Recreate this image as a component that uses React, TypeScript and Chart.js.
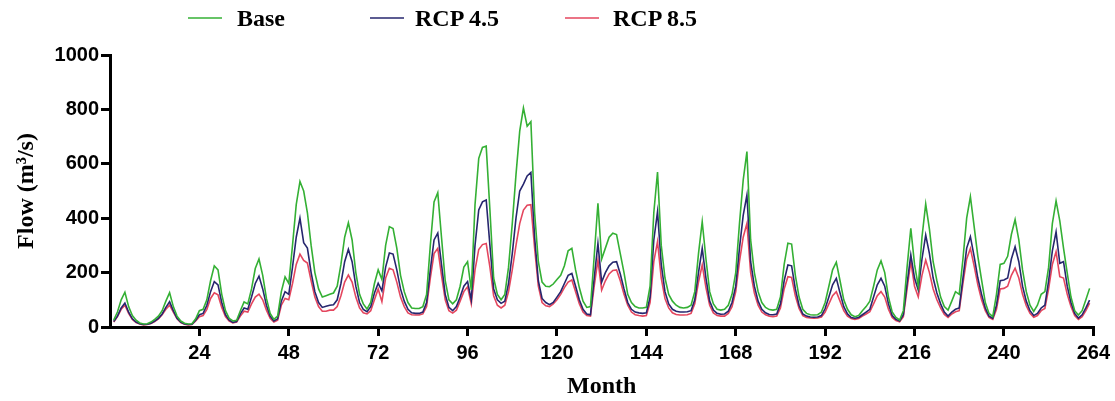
import React, { useEffect, useRef } from "react";
import { Chart, registerables } from "chart.js";

Chart.register(...registerables);

const seriesNames = ["Base", "RCP 4.5", "RCP 8.5"];
const seriesColors = ["#34b034", "#26266e", "#e4465e"];

const xTicks = [24, 48, 72, 96, 120, 144, 168, 192, 216, 240, 264];
const yTicks = [0, 200, 400, 600, 800, 1000];

const baseFlow = [
  25, 55, 100, 128, 75, 42, 25, 15, 11, 12, 18, 28,
  40, 60, 95, 126, 75, 40, 22, 14, 11, 12, 30, 60,
  65, 100, 170, 225, 210, 120, 60, 32, 22, 25, 60, 92,
  85, 140, 215, 250, 190, 105, 50, 28, 40, 130, 184, 160,
  300, 450, 535, 500, 420, 300, 200, 140, 110, 115, 120, 125,
  150, 230, 330, 383, 320, 200, 120, 85, 66, 90, 160, 210,
  175, 300, 369, 362, 290, 190, 130, 90, 70, 68, 68, 75,
  120, 300, 460, 494, 330, 170, 100, 85, 100, 150, 220, 240,
  136, 450, 620, 660, 665, 430, 180, 120, 100, 120, 220, 380,
  560, 720, 805, 738, 755, 420, 240, 165, 150, 148, 158, 175,
  190, 225, 280, 289, 210, 145, 95, 72, 75, 260, 455, 250,
  290, 330, 345, 340, 270, 200, 120, 90, 75, 70, 70, 72,
  150, 420, 570, 300, 180, 120, 95, 80, 72, 70, 72, 80,
  130, 270, 387, 250, 130, 85, 65, 62, 65, 80, 120, 200,
  380, 540, 645, 320, 200, 130, 90, 72, 64, 62, 65, 110,
  230, 308, 305, 190, 110, 65, 50, 45, 44, 45, 55, 90,
  150, 210, 238, 170, 100, 65, 45, 38, 42, 60, 75, 95,
  150, 210, 243, 200, 110, 55, 35, 26, 60, 220, 363, 230,
  150, 330, 452, 360, 240, 170, 110, 75, 62, 95, 130, 120,
  250, 400, 479, 370, 260, 173, 90, 50, 38, 120, 230, 234,
  260, 340, 395, 320, 210, 130, 80, 57, 80, 120, 130, 220,
  380, 464, 390, 290, 198, 110, 60, 44, 60, 100, 142,
];

const rcp45Flow = [
  20, 40, 70, 88, 55, 30, 18, 12, 9, 10, 14, 22,
  32, 48, 72, 93, 60, 32, 18, 11, 9, 10, 25, 45,
  50, 80, 130, 167, 155, 90, 45, 25, 17, 20, 48, 70,
  65, 110, 160, 187, 140, 80, 40, 22, 30, 95, 130, 120,
  220, 330, 400, 310, 290, 200, 130, 90, 72, 76, 80, 82,
  100, 160, 240, 286, 240, 150, 90, 65, 56, 75, 125, 161,
  133, 220, 272, 268, 210, 140, 95, 65, 52, 50, 50, 55,
  90, 210, 320, 345, 230, 120, 72, 60, 75, 110, 150, 167,
  100, 300, 430, 460, 467, 300, 140, 100, 87, 95, 160, 270,
  400, 500, 525, 555, 568, 330, 170, 105, 90, 82, 90, 110,
  130, 160, 190, 197, 150, 100, 65, 48, 45, 180, 307, 165,
  200, 225, 238, 240, 195, 140, 90, 65, 55, 52, 50, 52,
  110, 320, 424, 230, 130, 85, 65, 58, 55, 55, 56, 60,
  100, 200, 289, 180, 95, 62, 50, 47, 48, 58, 90, 150,
  290, 410, 485, 240, 150, 95, 65, 52, 46, 45, 48, 85,
  170, 228, 225, 140, 80, 48, 40, 37, 36, 37, 42, 68,
  110, 155, 179, 125, 75, 48, 35, 32, 35, 45, 55, 65,
  110, 155, 179, 150, 85, 42, 28, 22, 45, 160, 265, 180,
  136, 250, 338, 270, 180, 125, 85, 55, 40, 55, 65, 70,
  180, 290, 332, 260, 180, 120, 70, 40, 32, 80, 170, 173,
  180, 250, 295, 240, 150, 95, 60, 42, 50, 70, 80, 170,
  280, 350, 234, 240, 150, 90, 50, 33, 45, 70, 99,
];

const rcp85Flow = [
  18, 38, 65, 80, 50, 28, 16, 11, 8, 9, 13, 20,
  30, 45, 65, 80, 55, 30, 16, 10, 8, 9, 22, 38,
  42, 65, 105, 126, 118, 72, 38, 22, 15, 18, 40, 58,
  55, 85, 110, 121, 100, 62, 32, 18, 25, 80, 105, 100,
  160, 230, 268, 245, 235, 170, 110, 75, 58, 58, 62, 62,
  75, 115, 165, 191, 165, 110, 70, 52, 48, 60, 100, 140,
  93, 180, 216, 210, 165, 110, 75, 52, 45, 44, 44, 48,
  75, 180, 270, 289, 190, 100, 60, 51, 62, 95, 130, 148,
  85, 210, 285, 303, 307, 220, 115, 80, 70, 80, 130, 210,
  300, 380, 430, 448, 450, 290, 150, 90, 78, 75, 85, 100,
  120, 145, 165, 173, 130, 86, 55, 42, 40, 150, 246, 136,
  170, 195, 208, 210, 170, 120, 80, 55, 45, 42, 40, 42,
  90, 240, 314, 180, 105, 70, 52, 46, 44, 44, 45, 50,
  85, 165, 228, 145, 80, 52, 42, 40, 40, 50, 75, 130,
  240, 330, 381, 200, 125, 80, 55, 45, 40, 38, 40, 70,
  140, 185, 182, 115, 68, 42, 35, 33, 32, 33, 37, 55,
  85, 115, 130, 95, 60, 40, 31, 28, 31, 40, 48, 56,
  85, 115, 130, 110, 65, 35, 24, 19, 38, 140, 240, 150,
  111, 190, 246, 200, 140, 100, 70, 46, 35, 48, 56, 60,
  160, 250, 289, 225, 155, 100, 60, 35, 28, 65, 140, 142,
  150, 190, 216, 180, 120, 78, 50, 36, 42, 60, 68, 140,
  230, 277, 185, 180, 120, 75, 42, 28, 38, 60, 88,
];

const allSeries = [baseFlow, rcp45Flow, rcp85Flow];

const W = 1115;
const H = 401;
const PLOT_LEFT = 110;
const PLOT_RIGHT = 1097;
const PLOT_TOP = 55;
const PLOT_BOTTOM = 327;

const legendPos = [
  { line: 188, text: 237 },
  { line: 370, text: 415 },
  { line: 565, text: 613 },
];

export default function App() {
  const canvasRef = useRef<HTMLCanvasElement | null>(null);

  useEffect(() => {
    document.body.style.margin = "0";
    const canvas = canvasRef.current;
    if (!canvas) return;
    const datasets = allSeries.map((vals, si) => ({
      label: seriesNames[si],
      data: vals.map((v, i) => ({ x: i + 1, y: v })),
      borderColor: seriesColors[si],
      backgroundColor: seriesColors[si],
      borderWidth: 1.6,
      pointRadius: 0,
      tension: 0,
      fill: false,
    }));
    const chart = new Chart(canvas, {
      type: "line",
      data: { datasets },
      options: {
        animation: false,
        responsive: false,
        maintainAspectRatio: false,
        layout: { padding: { left: 0, right: W - PLOT_RIGHT, top: PLOT_TOP, bottom: 0 } },
        plugins: { legend: { display: false }, tooltip: { enabled: false } },
        scales: {
          x: {
            type: "linear",
            min: 0,
            max: 264,
            afterFit: (s: any) => {
              s.height = H - PLOT_BOTTOM;
            },
            afterBuildTicks: (s: any) => {
              s.ticks = [0, ...xTicks].map((v) => ({ value: v }));
            },
            ticks: {
              autoSkip: false,
              maxRotation: 0,
              padding: 5,
              color: "#000",
              font: { family: "Liberation Sans", weight: "bold", size: 20 },
              callback: (v: any) => (v === 0 ? "" : String(v)),
            },
            grid: {
              drawOnChartArea: false,
              drawTicks: true,
              tickLength: 9,
              lineWidth: 3,
              color: (ctx: any) => (ctx.tick && ctx.tick.value === 0 ? "rgba(0,0,0,0)" : "#000"),
            },
            border: { display: true, color: "#000", width: 3 },
            title: {
              display: true,
              text: "Month",
              color: "#000",
              font: { family: "Liberation Serif", weight: "bold", size: 24 },
              padding: { top: 0, bottom: 0 },
            },
          },
          y: {
            type: "linear",
            min: 0,
            max: 1000,
            afterFit: (s: any) => {
              s.width = PLOT_LEFT;
            },
            afterBuildTicks: (s: any) => {
              s.ticks = yTicks.map((v) => ({ value: v }));
            },
            ticks: {
              padding: 2,
              color: "#000",
              font: { family: "Liberation Sans", weight: "bold", size: 20 },
              callback: (v: any) => String(v),
            },
            grid: {
              drawOnChartArea: false,
              drawTicks: true,
              tickLength: 9,
              lineWidth: 3,
              color: "#000",
            },
            border: { display: true, color: "#000", width: 3 },
            title: {
              display: true,
              text: "Flow (m³/s)",
              color: "#000",
              font: { family: "Liberation Serif", weight: "bold", size: 24 },
              padding: { top: 12, bottom: 0 },
            },
          },
        },
      },
    });
    return () => chart.destroy();
  }, []);

  return (
    <div style={{ position: "fixed", left: 0, top: 0, width: W, height: H, background: "#fff" }}>
      <canvas ref={canvasRef} width={W} height={H} style={{ display: "block", width: W, height: H }} />
      {seriesNames.map((name, i) => (
        <React.Fragment key={name}>
          <div
            style={{
              position: "absolute",
              left: legendPos[i].line,
              top: 17,
              width: 34,
              height: 2,
              background: seriesColors[i],
              opacity: 0.75,
            }}
          />
          <div
            style={{
              position: "absolute",
              left: legendPos[i].text,
              top: 3,
              fontFamily: "'Liberation Serif', serif",
              fontWeight: "bold",
              fontSize: 24,
              lineHeight: "30px",
              color: "#000",
              whiteSpace: "nowrap",
            }}
          >
            {name}
          </div>
        </React.Fragment>
      ))}
    </div>
  );
}
